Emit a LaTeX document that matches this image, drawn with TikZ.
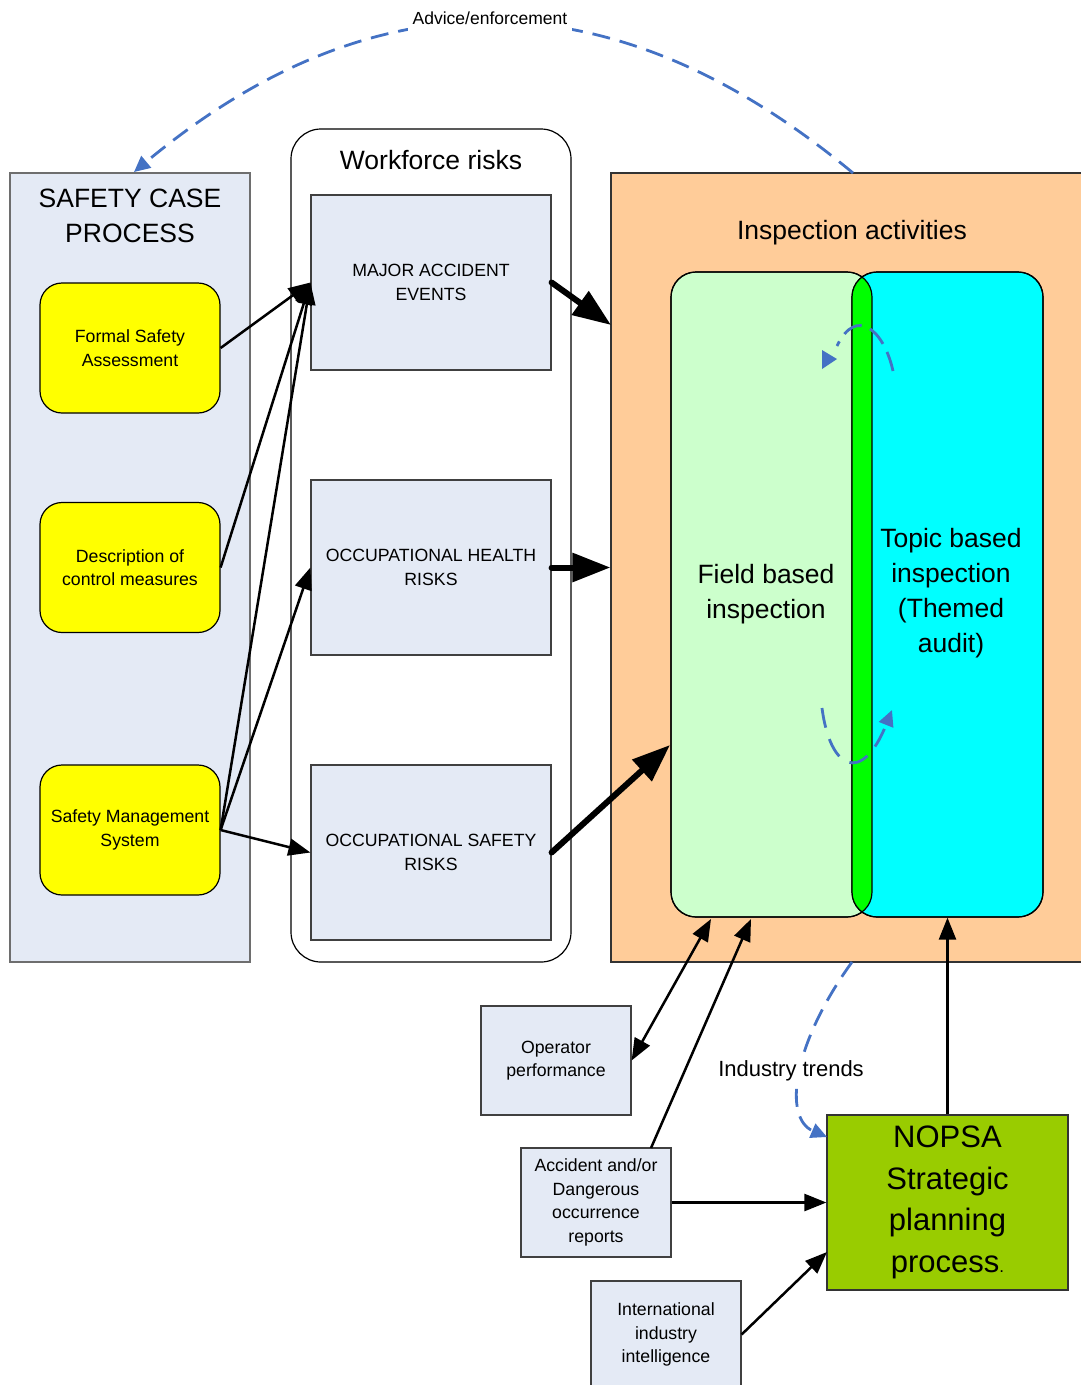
\documentclass[tikz,border=0pt]{standalone}
\usepackage{fontspec}
\setmainfont{Liberation Sans}
\usetikzlibrary{arrows.meta}
\definecolor{lbg}{RGB}{228,234,245}
\definecolor{bgray}{RGB}{110,110,110}
\definecolor{yel}{RGB}{255,255,0}
\definecolor{orng}{RGB}{255,204,153}
\definecolor{lgreen}{RGB}{204,255,204}
\definecolor{cyn}{RGB}{0,255,255}
\definecolor{ovgreen}{RGB}{0,255,0}
\definecolor{nopsa}{RGB}{153,204,0}
\definecolor{dblue}{RGB}{68,114,196}
\begin{document}
\begin{tikzpicture}[x=1pt,y=-1pt,
  outerbox/.style={draw=bgray, fill=lbg, line width=1.3pt, inner sep=0pt},
  riskbox/.style={draw=black!75, fill=lbg, line width=1.2pt, inner sep=0pt, minimum width=240pt, minimum height=175pt, align=center, font=\fontsize{17.7}{24}\selectfont},
  yelbox/.style={draw=black, fill=yel, rounded corners=22pt, line width=1.2pt, inner sep=0pt, minimum width=180pt, minimum height=130pt, align=center, font=\fontsize{17.7}{23.5}\selectfont},
  smallbox/.style={draw=black!75, fill=lbg, line width=1.2pt, inner sep=0pt, minimum width=150pt, align=center, font=\fontsize{17.7}{23.7}\selectfont},
  bigtxt/.style={align=center, inner sep=0pt, font=\fontsize{26.5}{35}\selectfont},
  thin/.style={line width=2.5pt, -{Triangle[length=22pt,width=17pt]}},
  thinboth/.style={line width=2.5pt, {Triangle[length=22pt,width=17pt]}-{Triangle[length=22pt,width=17pt]}},
  thick/.style={line width=6pt, line cap=round, -{Triangle[length=38pt,width=28pt]}},
  bluedash/.style={draw=dblue, line width=2.8pt, dash pattern=on 18pt off 10pt},
  bluetip/.style={-{Triangle[length=16pt,width=15pt]}},
  lbl/.style={fill=white, inner sep=2pt}
]
\useasboundingbox (0,0) rectangle (1081,1385);
\begin{scope}
\clip (0,0) rectangle (1081,1385);

% Safety case process
\node[outerbox, minimum width=240pt, minimum height=789pt] (sc) at (130,567.5) {};
\node[bigtxt] (sctitle) at (130,215.5) {SAFETY CASE\\PROCESS};
\node[yelbox] (fsa) at (130,348) {Formal Safety\\Assessment};
\node[yelbox] (desc) at (130,567.5) {Description of\\control measures};
\node[yelbox] (sms) at (130,830) {Safety Management\\System};

% Workforce risks
\node[draw=black, fill=white, line width=1.2pt, rounded corners=30pt, minimum width=280pt, minimum height=833pt, inner sep=0pt] (wf) at (431,545.5) {};
\node[bigtxt] (wftitle) at (431,160) {Workforce risks};
\node[riskbox] (mae) at (431,282.5) {MAJOR ACCIDENT\\EVENTS};
\node[riskbox] (ohr) at (431,567.5) {OCCUPATIONAL HEALTH\\RISKS};
\node[riskbox] (osr) at (431,852.5) {OCCUPATIONAL SAFETY\\RISKS};

% Inspection activities
\node[draw=black!80, fill=orng, line width=1.2pt, minimum width=479pt, minimum height=789pt, inner sep=0pt] (insp) at (850.5,567.5) {};
\node[bigtxt] (insptitle) at (852,233) {Inspection activities};
\node[draw=black, fill=lgreen, line width=1.2pt, rounded corners=25pt, minimum width=201pt, minimum height=645pt, inner sep=0pt] (field) at (771.5,594.5) {};
\node[draw=black, fill=cyn, line width=1.2pt, rounded corners=25pt, minimum width=191pt, minimum height=645pt, inner sep=0pt] (topic) at (947.5,594.5) {};
\begin{scope}
  \clip[rounded corners=25pt] (671,272) rectangle (872,917);
  \fill[ovgreen, rounded corners=25pt] (852,272) rectangle (1043,917);
\end{scope}
\draw[line width=1.2pt, rounded corners=25pt] (671,272) rectangle (872,917);
\draw[line width=1.2pt, rounded corners=25pt] (852,272) rectangle (1043,917);
\node[bigtxt] (fieldtxt) at (766,594) {Field based\\inspection};
\node[bigtxt] (topictxt) at (951,593.5) {Topic based\\inspection\\(Themed\\audit)};

% inner cycle arcs
\draw[bluedash, dash pattern=on 20pt off 9pt] (893,371) .. controls (884,330) and (856,306) .. (837,346);
\fill[dblue] (822,350) -- (822,369) -- (837,359) -- cycle;
\draw[bluedash, dash pattern=on 20pt off 12pt, bluetip] (822,708) .. controls (830,770) and (862,785) .. (892,710);

% bottom boxes
\node[smallbox, minimum height=109pt] (op) at (556,1060.5) {Operator\\performance};
\node[smallbox, minimum height=109pt] (acc) at (596,1202.5) {Accident and/or\\Dangerous\\occurrence\\reports};
\node[smallbox, minimum height=107pt] (intl) at (666,1334.5) {International\\industry\\intelligence};
\node[draw=black!80, fill=nopsa, line width=1.2pt, minimum width=241pt, minimum height=175pt, inner sep=0pt, align=center, font=\fontsize{31}{41.5}\selectfont] (nop) at (947.5,1202.5) {NOPSA\\Strategic\\planning\\process{\fontsize{17}{17}\selectfont.}};

% coordinates
\coordinate (inspA) at (611,325);
\coordinate (fieldA) at (670,745);
\coordinate (fieldB) at (711,919);
\coordinate (fieldC) at (751,919);
\coordinate (accTop) at (651,1148);
\coordinate (nopB) at (827,1252);
\coordinate (advS) at (853,173);
\coordinate (advE) at (134,172);
\coordinate (indS) at (852,962);
\coordinate (indE) at (827,1137);

% left arrows
\draw[thin] (fsa.east) -- (mae.west);
\draw[thin] (desc.east) -- (mae.west);
\draw[thin] (sms.east) -- (mae.west);
\draw[thin] (sms.east) -- (ohr.west);
\draw[thin] (sms.east) -- (osr.west);

% thick arrows
\draw[thick] (mae.east) -- (inspA);
\draw[thick] (ohr.east) -- (insp.west);
\draw[thick] (osr.east) -- (fieldA);

% bottom arrows
\draw[thinboth] (op.east) -- (fieldB);
\draw[thin] (accTop) -- (fieldC);
\draw[thin] (acc.east) -- (nop.west);
\draw[thin] (intl.east) -- (nopB);
\draw[thin] (nop.north) -- (topic.south);

% advice arc
\draw[bluedash, bluetip] (advS) .. controls (613,-27) and (373,-27) .. (advE);
\node[lbl, inner xsep=5pt, inner ysep=10pt, font=\fontsize{17.5}{20}\selectfont] (advlbl) at (490,18) {Advice/enforcement};

% industry trends
\draw[bluedash, bluetip] (indS) .. controls (792,1045) and (783,1118) .. (indE);
\node[lbl, font=\fontsize{22}{26}\selectfont] (indlbl) at (791,1071) {Industry trends};
\end{scope}
\end{tikzpicture}
\end{document}
